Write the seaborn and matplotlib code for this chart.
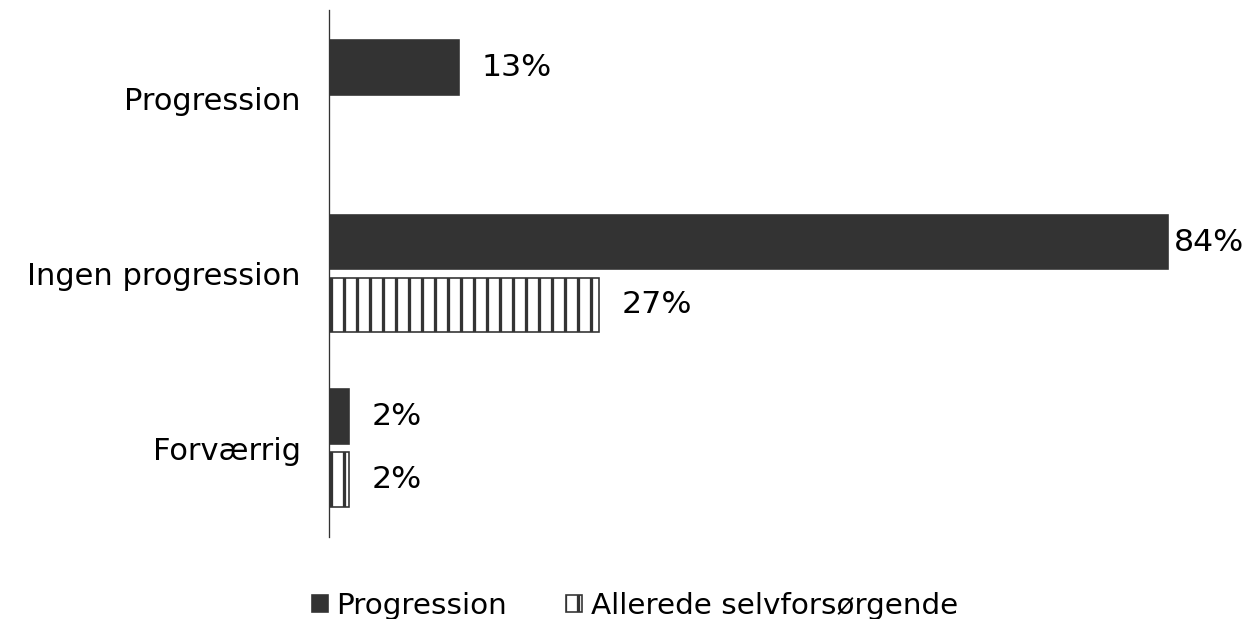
import numpy as np
import pandas as pd
import matplotlib
matplotlib.use("Agg")
import matplotlib.pyplot as plt
import seaborn as sns

categories = ["Progression", "Ingen progression", "Forværrig"]
series_names = ["Progression", "Allerede selvforsørgende"]
progression = [13, 84, 2]
allerede = [np.nan, 27, 2]

df = pd.DataFrame({
    "kategori": categories * 2,
    "serie": [series_names[0]] * 3 + [series_names[1]] * 3,
    "andel": progression + allerede,
}).dropna()

sns.set_theme(style="white")
plt.rcParams.update({
    "font.family": ["DejaVu Sans"],
    "hatch.linewidth": 3.0,
    "hatch.color": "#333333",
})

dark = "#333333"
dpi = 78.5
fig = plt.figure(figsize=(1256 / dpi, 619 / dpi), dpi=dpi)
ax = fig.add_axes([329 / 1256, 82 / 619, 927 / 1256, 527 / 619])

sns.barplot(
    data=df, y="kategori", x="andel", hue="serie",
    order=categories, hue_order=series_names,
    palette=[dark, "white"], orient="h",
    width=0.72, gap=0.13, dodge=True,
    edgecolor=dark, linewidth=1.5, ax=ax, legend=True,
)

for bar in ax.containers[1]:
    bar.set_hatch("|")

for cont in ax.containers:
    texts = ax.bar_label(cont, fmt="%d%%", padding=21, fontsize=29, color="black")
    # longest bar: label sits closer so it fits inside the figure
    for t, val in zip(texts, cont.datavalues):
        if val > 80:
            t.xyann = (5, 0)

ax.set_xlim(0, 92.8)
ax.set_ylim(2.51, -0.51)
ax.set_xlabel("")
ax.set_ylabel("")
ax.set_xticks([])
ax.tick_params(axis="y", length=0, pad=26, labelsize=28, labelcolor="black")
for side in ["top", "right", "bottom"]:
    ax.spines[side].set_visible(False)
ax.spines["left"].set_color(dark)
ax.spines["left"].set_linewidth(1.2)

handles, labels = ax.get_legend_handles_labels()
handles[1].set_hatch("|")
ax.legend(handles, labels, loc="center", bbox_to_anchor=(635 / 1256, 13 / 619),
          bbox_transform=fig.transFigure, ncol=2, frameon=False, fontsize=27,
          labelcolor="black", borderpad=0,
          handlelength=0.55, handleheight=0.55, handletextpad=0.3, columnspacing=2.0)

fig.savefig("out.png", dpi=dpi)
